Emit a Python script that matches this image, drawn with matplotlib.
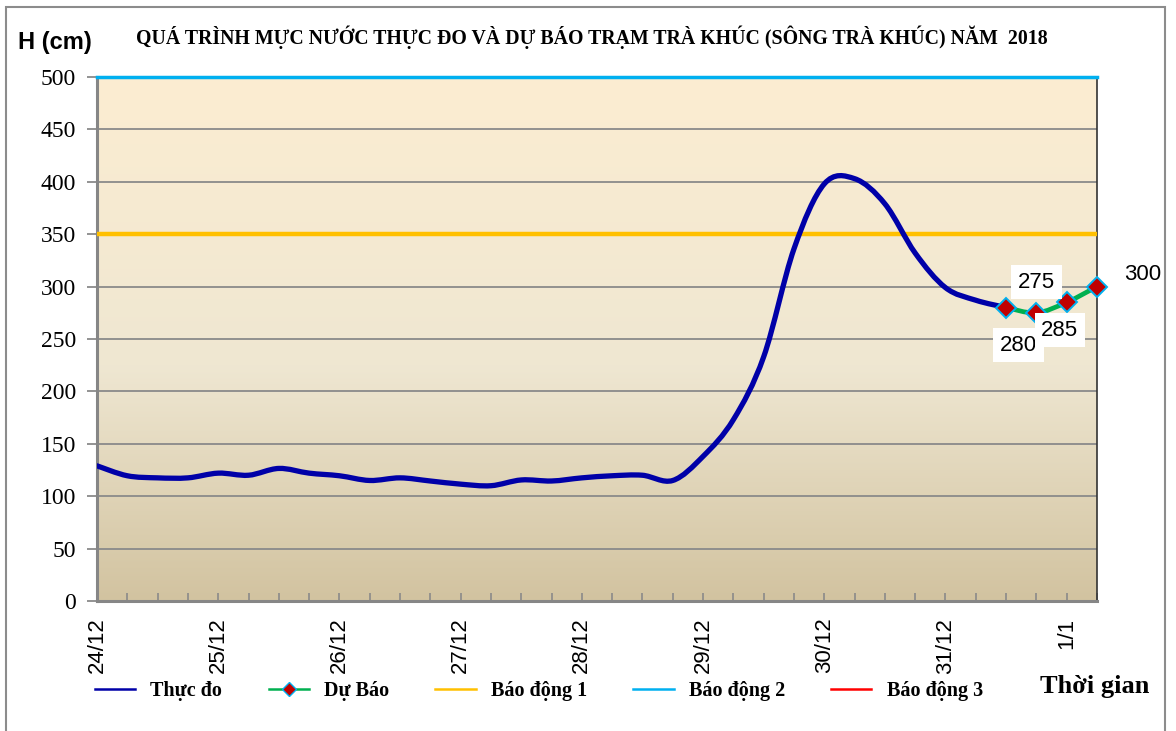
#!/usr/bin/env python3
# coding: utf-8

import numpy as np
import matplotlib
matplotlib.use("Agg")
import matplotlib.pyplot as plt
from matplotlib import font_manager
from matplotlib.path import Path
from matplotlib.patches import PathPatch, Rectangle
from matplotlib.lines import Line2D
from matplotlib.colors import LinearSegmentedColormap

plt.rcParams["font.family"] = ["Liberation Serif", "DejaVu Serif"]

# water level, 6h steps from 24/12
thuc_do = [129, 119.5, 117.5, 117.5, 122, 120, 126.5, 122, 119.5, 115,
           117.5, 114.5, 111.5, 110, 115.5, 114.5, 117.5, 119.5, 120, 115,
           138, 173, 233, 336, 398, 403, 379, 332, 299, 287, 280]
du_bao = [280, 275, 285, 300]
du_bao_start = 30
bao_dong_1 = 350
bao_dong_2 = 500
day_labels = ["24/12", "25/12", "26/12", "27/12", "28/12",
              "29/12", "30/12", "31/12", "1/1"]
steps_per_day = 4
y_ticks = list(range(0, 501, 50))

title = "QUÁ TRÌNH MỰC NƯỚC THỰC ĐO VÀ DỰ BÁO TRẠM TRÀ KHÚC (SÔNG TRÀ KHÚC) NĂM  2018"


def smooth_path(x, y):
    # excel-like smoothed line (catmull-rom as bezier)
    verts = [(x[0], y[0])]
    codes = [Path.MOVETO]
    n = len(x)
    for i in range(n - 1):
        a = i - 1 if i > 0 else i
        d = i + 2 if i + 2 < n else i + 1
        c1 = (x[i] + (x[i + 1] - x[a]) / 6.0, y[i] + (y[i + 1] - y[a]) / 6.0)
        c2 = (x[i + 1] - (x[d] - x[i]) / 6.0, y[i + 1] - (y[d] - y[i]) / 6.0)
        verts += [c1, c2, (x[i + 1], y[i + 1])]
        codes += [Path.CURVE4] * 3
    return Path(verts, codes)


W, H = 1176, 731
fig = plt.figure(figsize=(W / 100, H / 100), dpi=100)
fig.patch.set_facecolor("white")

# outer frame
fig.patches.append(Rectangle((6 / W, -0.02), 1159 / W, 1 - 7 / H + 0.02,
                             transform=fig.transFigure, fill=False,
                             edgecolor="#8c8c8c", lw=1.5))

ax = fig.add_axes([97 / W, 130 / H, 1000 / W, 524 / H])

n_total = du_bao_start + len(du_bao)
x_td = np.arange(len(thuc_do))
x_db = np.arange(du_bao_start, n_total)

ax.set_xlim(0, n_total - 1)
ax.set_ylim(0, 500)

# background gradient
cmap = LinearSegmentedColormap.from_list(
    "bg", [(0.0, "#d2c3a0"), (0.45, "#efe7d2"), (1.0, "#fcedd1")])
grad = np.linspace(0, 1, 256).reshape(-1, 1)
ax.imshow(grad, cmap=cmap, aspect="auto", origin="lower",
          extent=(0, n_total - 1, 0, 500), zorder=0)

ax.grid(axis="y", color="#8a8a8a", lw=1.3, zorder=1)
ax.set_axisbelow(True)

ax.axhline(bao_dong_1, color="#ffc000", lw=3.2, zorder=3)
ax.axhline(bao_dong_2, color="#00b0f0", lw=2.5, zorder=3, clip_on=False)

ax.add_patch(PathPatch(smooth_path(x_td, thuc_do), fill=False,
                       edgecolor="#0000a8", lw=3.8, zorder=4,
                       capstyle="round", joinstyle="round"))
ax.add_patch(PathPatch(smooth_path(x_db, du_bao), fill=False,
                       edgecolor="#00b050", lw=3.4, zorder=5,
                       capstyle="round"))
ax.plot(x_db, du_bao, ls="none", marker="D", ms=10, mfc="#c00000",
        mec="#00b0f0", mew=1.4, zorder=6, clip_on=False)

# data labels
offsets = [(9, -27), (0, 22), (-5, -20), (33, 9)]
for xi, v, off in zip(x_db, du_bao, offsets):
    ax.annotate(str(v), (xi, v), xytext=off, textcoords="offset points",
                ha="center", va="center", fontsize=16,
                family="Liberation Sans", zorder=7, annotation_clip=False,
                bbox=dict(boxstyle="square,pad=0.3", fc="white", ec="none"))

# axes styling
for s in ["left", "bottom"]:
    ax.spines[s].set_color("#868686")
    ax.spines[s].set_linewidth(2.2)
ax.spines["right"].set_color("#333333")
ax.spines["right"].set_linewidth(1.2)
ax.spines["top"].set_visible(False)

ax.set_xticks(np.arange(n_total))
labels = [""] * n_total
for k, lab in enumerate(day_labels):
    labels[k * steps_per_day] = lab
ax.set_xticklabels(labels, rotation=90, fontsize=16, family="Liberation Sans")
ax.tick_params(axis="x", direction="in", length=6, width=1.2,
               color="#8a8a8a", pad=12)
ax.tick_params(axis="y", direction="out", length=7, width=1.3,
               color="#8a8a8a", pad=8)
ax.set_yticks(y_ticks, labels=[str(v) for v in y_ticks])
serif = font_manager.FontProperties(family="Liberation Serif", size=17)
for t in ax.yaxis.get_major_ticks():
    t.label1.set_fontproperties(serif)

fig.text(18 / W, 1 - 42 / H, "H (cm)", fontsize=17, fontweight="bold",
         family="Liberation Sans", va="center", ha="left")
fig.text(592 / W, 1 - 37 / H, title, fontsize=14.3, fontweight="bold",
         va="center", ha="center")
fig.text(1095 / W, 1 - 687 / H, "Thời gian", fontsize=19, fontweight="bold",
         va="center", ha="center")

handles = [
    Line2D([], [], color="#0000a8", lw=1.8),
    Line2D([], [], color="#00b050", lw=1.8, marker="D", ms=7,
           mfc="#c00000", mec="#00b0f0"),
    Line2D([], [], color="#ffc000", lw=1.8),
    Line2D([], [], color="#00b0f0", lw=1.8),
    Line2D([], [], color="#ff0000", lw=1.8),
]
names = ["Thực đo", "Dự Báo", "Báo động 1", "Báo động 2", "Báo động 3"]
fig.legend(handles, names, loc="center left", ncol=5, frameon=False,
           bbox_to_anchor=(95 / W, 1 - 691 / H), handlelength=2.0,
           columnspacing=2.3, handletextpad=0.75, borderpad=0,
           borderaxespad=0,
           prop={"weight": "bold", "size": 14.5})

fig.savefig("out.png", dpi=100)
